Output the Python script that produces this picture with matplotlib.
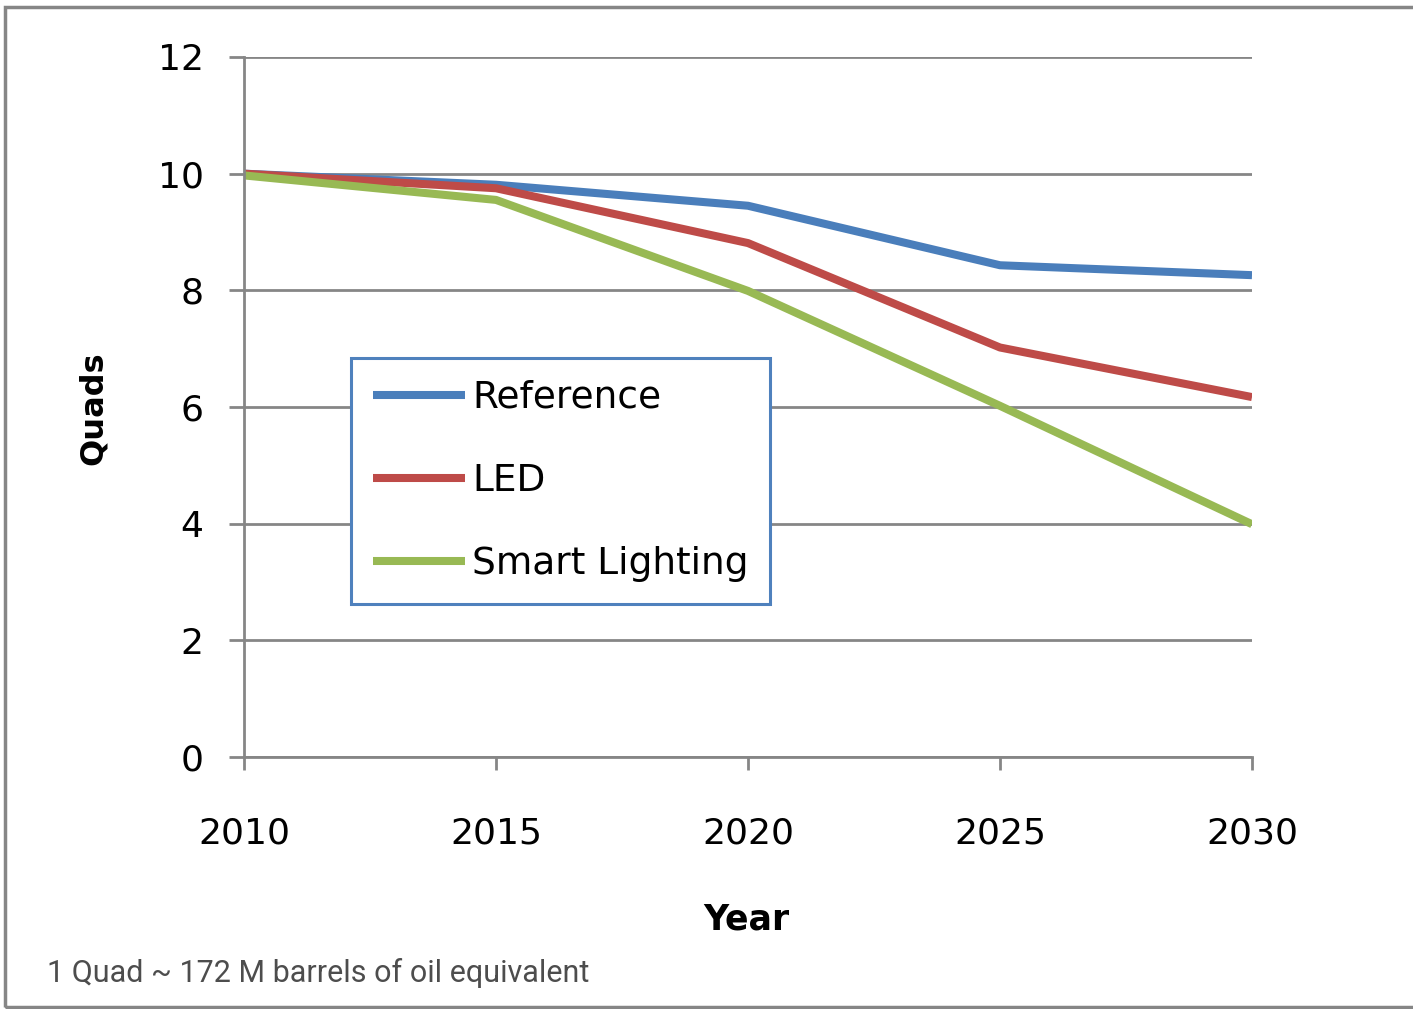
import matplotlib
matplotlib.use("Agg")
import matplotlib.pyplot as plt
from matplotlib.patches import Rectangle

years = [2010, 2015, 2020, 2025, 2030]
reference = [10.0, 9.81, 9.45, 8.43, 8.26]
led = [10.0, 9.75, 8.81, 7.02, 6.17]
smart = [9.97, 9.55, 7.99, 6.02, 3.99]
series_names = ["Reference", "LED", "Smart Lighting"]
y_ticks = [0, 2, 4, 6, 8, 10, 12]

colors = ["#4a7ebb", "#be4b48", "#98b954"]
grid_c = "#868686"

W, H = 1413, 1009
fig = plt.figure(figsize=(W / 100, H / 100), dpi=100)
ax = fig.add_axes([244 / W, 1 - 757 / H, (1252 - 244) / W, (757 - 57) / H])

for vals, name, c in zip([reference, led, smart], series_names, colors):
    ax.plot(years, vals, color=c, lw=5.8, label=name, solid_capstyle="butt",
            solid_joinstyle="round")

ax.set_xlim(2010, 2030)
ax.set_ylim(0, 12)
ax.set_xticks(years)
ax.set_yticks(y_ticks)
ax.set_xticklabels([str(y) for y in years], fontsize=26, family="DejaVu Sans")
ax.set_yticklabels([str(v) for v in y_ticks], fontsize=26, family="DejaVu Sans")
ax.tick_params(axis="y", length=11, width=2, color=grid_c, pad=18)
ax.tick_params(axis="x", length=9, width=2, color=grid_c, pad=34)
ax.yaxis.grid(True, color=grid_c, lw=2)
ax.set_axisbelow(True)
for s in ["top", "right"]:
    ax.spines[s].set_visible(False)
for s in ["left", "bottom"]:
    ax.spines[s].set_color(grid_c)
    ax.spines[s].set_linewidth(2)

leg = ax.legend(loc="upper left", bbox_to_anchor=(351 / W, 1 - 358 / H),
                bbox_transform=fig.transFigure, borderaxespad=0,
                fancybox=False, frameon=True, fontsize=27,
                handlelength=2.45, handletextpad=0.2, labelspacing=1.26,
                borderpad=0.58)
leg.get_frame().set_edgecolor("#4f81bd")
leg.get_frame().set_linewidth(2.2)
leg.get_frame().set_alpha(1)

fig.text(746 / W, 1 - 920 / H, "Year", fontsize=25, fontweight="bold",
         ha="center", va="center")
fig.text(93 / W, 1 - 408 / H, "Quads", fontsize=23, fontweight="bold",
         ha="center", va="center", rotation=90)
fig.text(47 / W, 1 - 973 / H, "1 Quad ~ 172 M barrels of oil equivalent",
         fontsize=22, color="#4d4d4d", family="Roboto", ha="left", va="center")

fig.patches.append(Rectangle((5 / W, 1 - 1007 / H), 1.05, (1007 - 7) / H,
                             transform=fig.transFigure, fill=False,
                             edgecolor=grid_c, lw=2.5, clip_on=False))

fig.savefig("out.png", dpi=100)
